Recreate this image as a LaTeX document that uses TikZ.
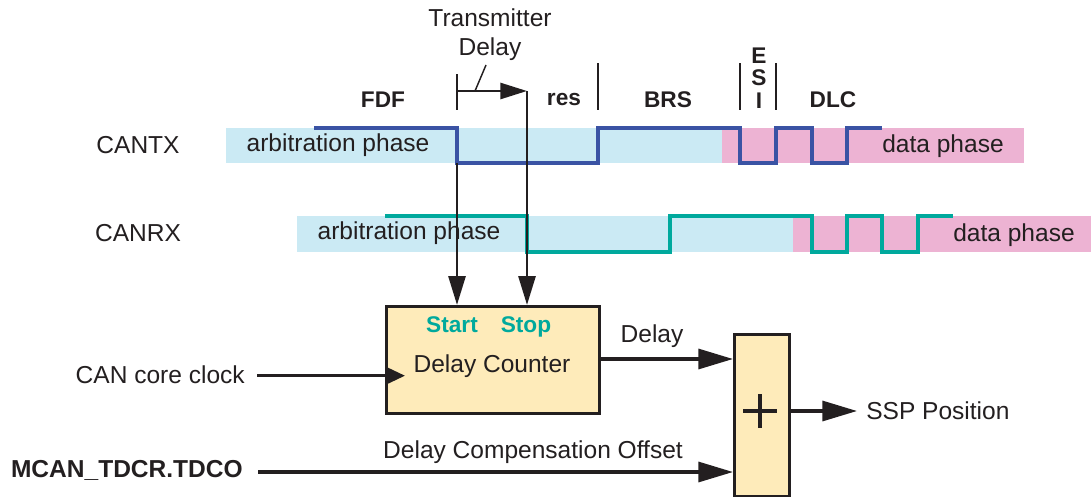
\documentclass[tikz,border=0pt]{standalone}
\usepackage{fontspec}
\setmainfont{Liberation Sans}
\usepackage{xcolor}
\usetikzlibrary{arrows.meta,positioning}
\definecolor{bandblue}{HTML}{CBEAF4}
\definecolor{bandpink}{HTML}{EDB3D3}
\definecolor{txblue}{HTML}{3A53A4}
\definecolor{rxteal}{HTML}{00A99D}
\definecolor{cntfill}{HTML}{FEEBBA}
\definecolor{ink}{HTML}{231F20}
\tikzset{
  lbl/.style={
    font=\fontsize{18.4}{21.75}\selectfont,
    text=ink,
    inner sep=0pt,
    align=center
  },
  field/.style={
    font=\fontsize{17}{16.9}\selectfont\bfseries,
    text=ink,
    inner sep=0pt,
    align=center
  },
  pin/.style={
    font=\fontsize{17}{17}\selectfont\bfseries,
    text=rxteal,
    inner sep=0pt,
    anchor=base
  },
  box/.style={
    draw=ink,
    fill=cntfill,
    line width=2.5pt,
    inner sep=0pt
  },
  txsig/.style={
    draw=txblue,
    line width=2.5pt
  },
  rxsig/.style={
    draw=rxteal,
    line width=2.5pt
  },
  tick/.style={
    draw=ink,
    line width=2pt
  },
  sep/.style={
    draw=ink,
    line width=1.1pt
  },
  arrow/.style={
    -{Triangle[length=26pt,width=15pt]},
    draw=ink,
    fill=ink,
    line width=2.4pt
  },
  downarrow/.style={
    -{Triangle[length=21.75pt,width=12.75pt]},
    draw=ink,
    fill=ink,
    line width=2.1pt
  }
}

\begin{document}
\begin{tikzpicture}[x=0.75pt,y=-0.75pt]

\useasboundingbox (0,0) rectangle (1091,496);

\fill[bandblue] (226,128) rectangle (722,163);
\fill[bandpink] (722,128) rectangle (1024,163);
\fill[bandblue] (297,216) rectangle (793,252);
\fill[bandpink] (793,216) rectangle (1091,252);

\node[lbl] (cantx) at (138,145) {CANTX};
\node[lbl] (canrx) at (138,233) {CANRX};
\node[lbl] (txarb) at (338,145) {arbitration phase};
\node[lbl] (txdata) at (943,146) {data phase};
\node[lbl] (rxarb) at (409,233) {arbitration phase};
\node[lbl] (rxdata) at (1014,235) {data phase};

\node[field] (fdf) at (383,100) {FDF};
\node[field] (res) at (564,100) {res};
\node[field] (brs) at (668,100) {BRS};
\node[field] (esi) at (759,78) {E\\S\\I};
\node[field] (dlc) at (833,100) {DLC};
\node[lbl] (tdelay) at (490,35) {Transmitter\\Delay};

\draw[sep] (598,63) -- (598,110);
\draw[sep] (740,63) -- (740,110);
\draw[sep] (776,63) -- (776,110);

\draw[txsig] (314,128) -| (457,163) -| (598,128) -| (740,163) -| (776,128)
  -| (812,163) -| (847,128) -- (882,128);
\draw[rxsig] (385,216) -| (527,252) -| (670,216) -| (812,252) -| (847,216)
  -| (882,252) -| (918,216) -- (953,216);

\node[box, minimum width=159.75pt, minimum height=80.25pt, anchor=north west] (counter) at (385,305) {};
\node[lbl] (countlbl) at (492,366) {Delay Counter};
\node[pin] (start) at (452,332) {Start};
\node[pin] (stop) at (526,332) {Stop};

\node[box, minimum width=41.25pt, minimum height=121.5pt, anchor=north west] (sum) at (733,333) {};
\coordinate (plus) at (760,411);
\draw[ink, line width=3pt] ([xshift=-12.4pt]plus) -- ([xshift=12.4pt]plus);
\draw[ink, line width=3pt] ([yshift=-12.4pt]plus) -- ([yshift=12.4pt]plus);

\coordinate (txfall) at (457,163);
\coordinate (tdstart) at (457,91);
\coordinate (tdend) at (527,91);
\draw[tick] (457,74) -- (457,110);
\draw[-{Triangle[length=20pt,width=12pt]}, draw=ink, fill=ink, line width=2pt] (tdstart) -- (tdend);
\draw[sep] (475,91) -- (486,65);
\draw[downarrow] (txfall) -- (txfall |- counter.north);
\draw[downarrow] (tdend) -- (tdend |- counter.north);

\node[lbl, anchor=east] (clock) at (245,375) {CAN core clock};
\coordinate (clockin) at (257,375.7);
\draw[-{Triangle[length=15pt,width=13.5pt]}, draw=ink, fill=ink, line width=2.4pt]
  (clockin) -- ([xshift=15pt]clockin -| counter.west);

\coordinate (delayout) at (598,359);
\draw[arrow] (delayout) -- (delayout -| sum.west);
\node[lbl] (delay) at (652,336) {Delay};

\node[lbl, font=\fontsize{18.4}{22}\selectfont\bfseries, anchor=east] (tdco) at (243,470) {MCAN\_TDCR.TDCO};
\coordinate (offsetin) at (258,472);
\draw[arrow] (offsetin) -- (offsetin -| sum.west);
\node[lbl] (offset) at (533,452) {Delay Compensation Offset};

\node[lbl, anchor=west] (ssp) at (866,411) {SSP Position};
\coordinate (ssptip) at (857,411);
\draw[arrow] (plus -| sum.east) -- (ssptip);

\end{tikzpicture}
\end{document}
